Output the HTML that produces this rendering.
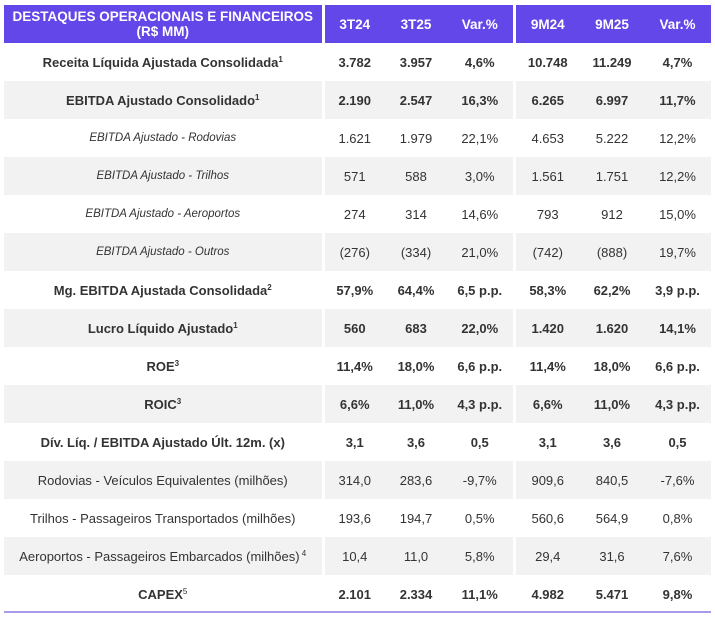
<!DOCTYPE html>
<html><head><meta charset="utf-8"><style>
body{margin:0;width:715px;height:618px;background:#fff;font-family:"Liberation Sans",Arial,sans-serif;color:#333;overflow:hidden}
table{position:absolute;left:4px;top:5px;border-collapse:collapse;table-layout:fixed;width:707px}
td{padding:0;text-align:center;font-size:13px;height:38px;white-space:nowrap}
tr.h td{background:#6347e8;color:#fff;font-weight:bold;font-size:13.5px;height:38px;line-height:15px}
tr.g td{background:#f2f2f2}
td.s{border-right:3px solid #fff}
tr.b td{font-weight:bold}
tr.i td:first-child{font-style:italic;font-size:11.5px}
sup{font-size:8px;vertical-align:5px;line-height:0}
.line{position:absolute;left:4px;top:611px;width:707px;height:2px;background:#a99ae8}
</style></head><body>
<table>
<colgroup><col style="width:319px"><col style="width:62px"><col style="width:62px"><col style="width:67px"><col style="width:66px"><col style="width:64px"><col style="width:67px"></colgroup>
<tr class="h"><td class="s">DESTAQUES OPERACIONAIS E FINANCEIROS<br>(R$ MM)</td><td>3T24</td><td>3T25</td><td class="s">Var.%</td><td>9M24</td><td>9M25</td><td>Var.%</td></tr>
<tr class="b"><td class="s">Receita Líquida Ajustada Consolidada<sup>1</sup></td><td>3.782</td><td>3.957</td><td class="s">4,6%</td><td>10.748</td><td>11.249</td><td>4,7%</td></tr>
<tr class="b g"><td class="s">EBITDA Ajustado Consolidado<sup>1</sup></td><td>2.190</td><td>2.547</td><td class="s">16,3%</td><td>6.265</td><td>6.997</td><td>11,7%</td></tr>
<tr class="i"><td class="s">EBITDA Ajustado - Rodovias</td><td>1.621</td><td>1.979</td><td class="s">22,1%</td><td>4.653</td><td>5.222</td><td>12,2%</td></tr>
<tr class="i g"><td class="s">EBITDA Ajustado - Trilhos</td><td>571</td><td>588</td><td class="s">3,0%</td><td>1.561</td><td>1.751</td><td>12,2%</td></tr>
<tr class="i"><td class="s">EBITDA Ajustado - Aeroportos</td><td>274</td><td>314</td><td class="s">14,6%</td><td>793</td><td>912</td><td>15,0%</td></tr>
<tr class="i g"><td class="s">EBITDA Ajustado - Outros</td><td>(276)</td><td>(334)</td><td class="s">21,0%</td><td>(742)</td><td>(888)</td><td>19,7%</td></tr>
<tr class="b"><td class="s">Mg. EBITDA Ajustada Consolidada<sup>2</sup></td><td>57,9%</td><td>64,4%</td><td class="s">6,5 p.p.</td><td>58,3%</td><td>62,2%</td><td>3,9 p.p.</td></tr>
<tr class="b g"><td class="s">Lucro Líquido Ajustado<sup>1</sup></td><td>560</td><td>683</td><td class="s">22,0%</td><td>1.420</td><td>1.620</td><td>14,1%</td></tr>
<tr class="b"><td class="s">ROE<sup>3</sup></td><td>11,4%</td><td>18,0%</td><td class="s">6,6 p.p.</td><td>11,4%</td><td>18,0%</td><td>6,6 p.p.</td></tr>
<tr class="b g"><td class="s">ROIC<sup>3</sup></td><td>6,6%</td><td>11,0%</td><td class="s">4,3 p.p.</td><td>6,6%</td><td>11,0%</td><td>4,3 p.p.</td></tr>
<tr class="b"><td class="s">Dív. Líq. / EBITDA Ajustado Últ. 12m. (x)</td><td>3,1</td><td>3,6</td><td class="s">0,5</td><td>3,1</td><td>3,6</td><td>0,5</td></tr>
<tr class="g"><td class="s">Rodovias - Veículos Equivalentes (milhões)</td><td>314,0</td><td>283,6</td><td class="s">-9,7%</td><td>909,6</td><td>840,5</td><td>-7,6%</td></tr>
<tr><td class="s">Trilhos - Passageiros Transportados (milhões)</td><td>193,6</td><td>194,7</td><td class="s">0,5%</td><td>560,6</td><td>564,9</td><td>0,8%</td></tr>
<tr class="g"><td class="s">Aeroportos - Passageiros Embarcados (milhões)<sup> 4</sup></td><td>10,4</td><td>11,0</td><td class="s">5,8%</td><td>29,4</td><td>31,6</td><td>7,6%</td></tr>
<tr class="b"><td class="s">CAPEX<sup style="font-weight:normal">5</sup></td><td>2.101</td><td>2.334</td><td class="s">11,1%</td><td>4.982</td><td>5.471</td><td>9,8%</td></tr>
</table>
<div class="line"></div>
</body></html>
